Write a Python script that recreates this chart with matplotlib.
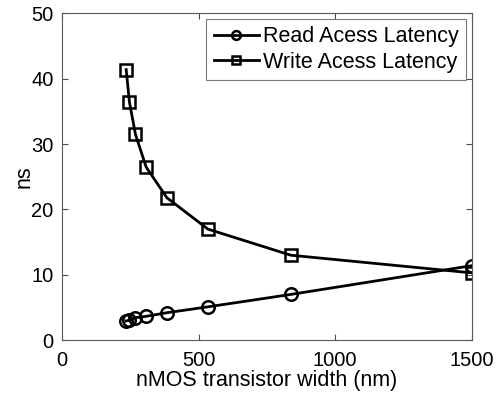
import matplotlib
matplotlib.use("Agg")
import matplotlib.pyplot as plt

width_nm = [235, 247, 269, 308, 384, 534, 838, 1500]
read_ns = [2.95, 3.05, 3.45, 3.65, 4.2, 5.1, 7.0, 11.4]
write_ns = [41.4, 36.4, 31.5, 26.5, 21.8, 17.0, 13.0, 10.3]
series_labels = ["Read Acess Latency", "Write Acess Latency"]
x_label = "nMOS transistor width (nm)"
y_label = "ns"

plt.rcParams['font.family'] = ['Liberation Sans', 'DejaVu Sans']

fig = plt.figure(figsize=(4.96, 3.96), dpi=100)
ax = fig.add_axes([0.125, 0.141, 0.826, 0.825])

ax.plot(width_nm, read_ns, color='black', lw=2, marker='o', ms=9,
        mfc='none', mec='black', mew=1.8, label=series_labels[0])
ax.plot(width_nm, write_ns, color='black', lw=2, marker='s', ms=8,
        mfc='none', mec='black', mew=1.8, label=series_labels[1])

ax.set_xlim(0, 1500)
ax.set_ylim(0, 50)
ax.set_xticks([0, 500, 1000, 1500])
ax.set_yticks([0, 10, 20, 30, 40, 50])
ax.tick_params(direction='in', top=True, right=True, labelsize=14.5, length=4,
               color='0.3')
ax.tick_params(axis='x', pad=8)
ax.tick_params(axis='y', pad=6)
for s in ax.spines.values():
    s.set_color('0.35')
    s.set_linewidth(0.8)
ax.set_xlabel(x_label, fontsize=15.5, labelpad=0)
ax.set_ylabel(y_label, fontsize=15.5, labelpad=-2)

leg = ax.legend(loc='upper right', fontsize=15.5, frameon=True, fancybox=False,
                edgecolor='0.35', borderaxespad=0.25, handlelength=2.1,
                handletextpad=0.2, borderpad=0.35, labelspacing=0.2,
                markerscale=0.7)
leg.get_frame().set_linewidth(0.8)

fig.savefig("out.png", dpi=100)
